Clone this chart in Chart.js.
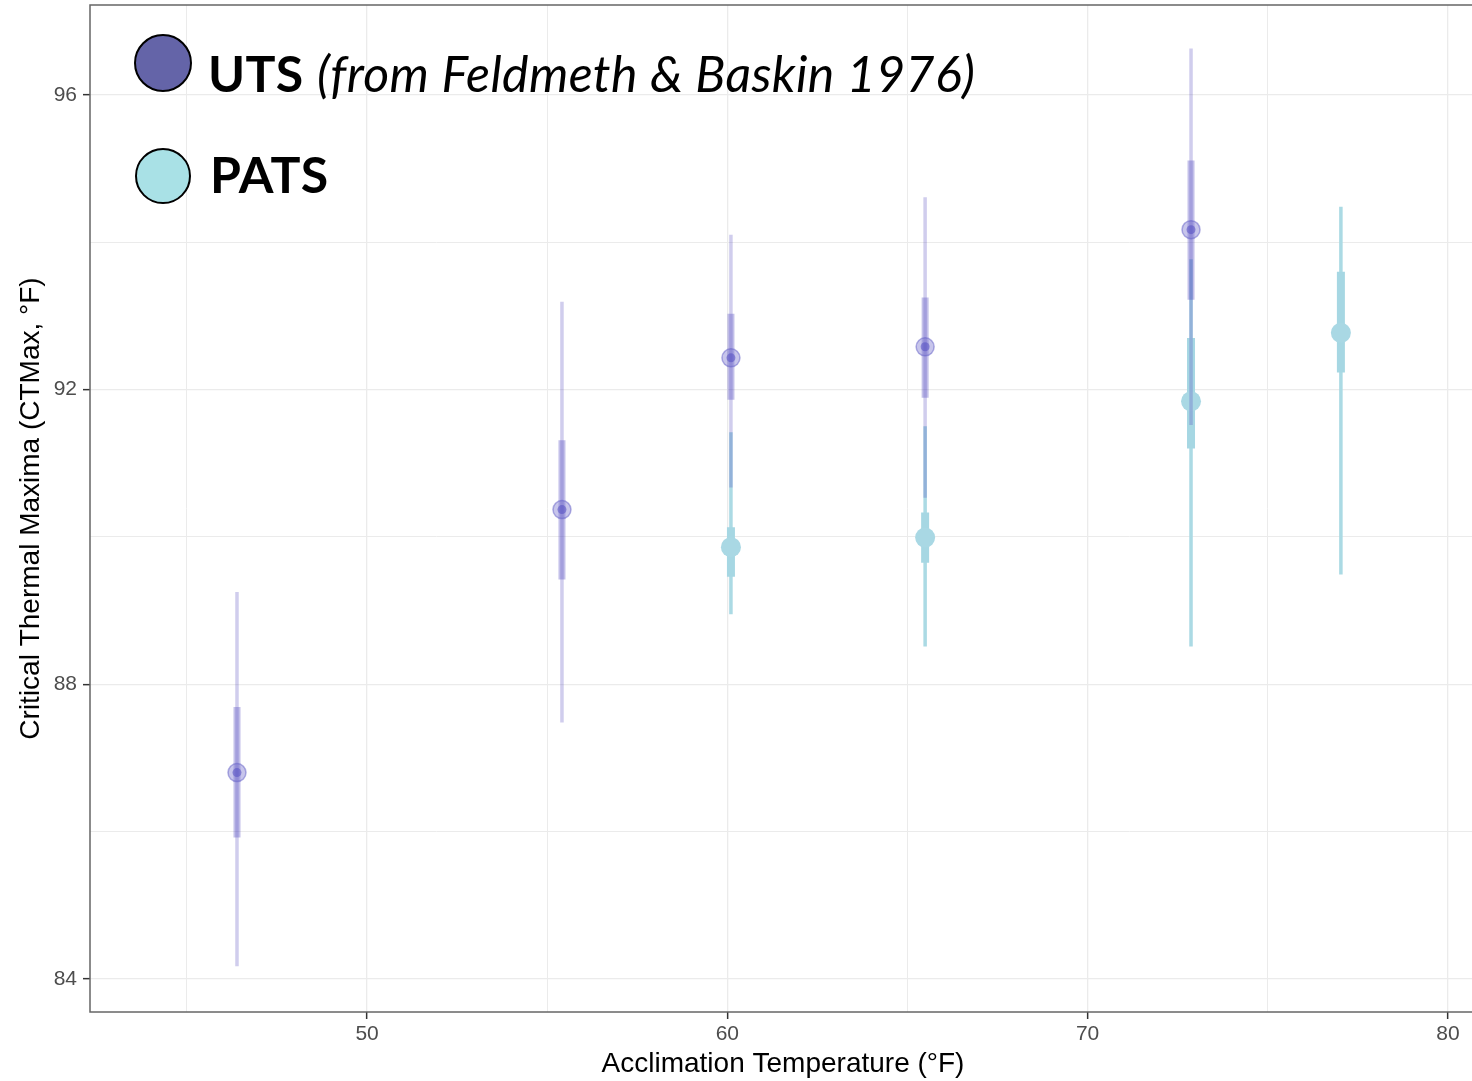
<!DOCTYPE html>
<html>
<head>
<meta charset="utf-8">
<script src="https://cdn.jsdelivr.net/npm/chart.js@4.4.1/dist/chart.umd.min.js"></script>
<style>
  body { margin: 0; background: #fff; overflow: hidden; }
  #wrap { position: relative; width: 1480px; height: 1081px; }
  .dot { position: absolute; border: 2px solid #000; border-radius: 50%; box-sizing: border-box; }
  .lab { position: absolute; font-family: Lato, "Noto Sans", sans-serif; font-size: 50px; line-height: 50px; letter-spacing: 0.4px; color: #000; white-space: nowrap; }
</style>
</head>
<body>
<div id="wrap">
  <canvas id="ctChart"></canvas>
  <div class="dot" style="left:134px; top:34px; width:58px; height:58px; background:#6464a8;"></div>
  <div class="lab" style="left:208px; top:48px;"><b>UTS</b> <i>(from Feldmeth &amp; Baskin 1976)</i></div>
  <div class="dot" style="left:135px; top:148px; width:56px; height:56px; background:#a9e1e6;"></div>
  <div class="lab" style="left:210px; top:149px;"><b>PATS</b></div>
</div>
<script>
// -------------------------------
// DATA
// -------------------------------
const utsTemp    = [46.39, 55.41, 60.10, 65.49, 72.87];
const utsMean    = [86.80, 90.37, 92.43, 92.58, 94.17];
const utsInnerLo = [85.92, 89.42, 91.86, 91.89, 93.22];
const utsInnerHi = [87.69, 91.31, 93.03, 93.25, 95.11];
const utsOuterLo = [84.17, 87.48, 90.67, 90.53, 91.52];
const utsOuterHi = [89.25, 93.19, 94.10, 94.61, 96.63];

const patsTemp    = [60.10, 65.49, 72.87, 77.03];
const patsMean    = [89.86, 89.99, 91.84, 92.77];
const patsInnerLo = [89.46, 89.65, 91.20, 92.23];
const patsInnerHi = [90.13, 90.33, 92.70, 93.60];
const patsOuterLo = [88.95, 88.51, 88.51, 89.49];
const patsOuterHi = [91.42, 91.50, 93.77, 94.48];

const xTicks = [50, 60, 70, 80];
const yTicks = [84, 88, 92, 96];

// -------------------------------
// HELPERS
// -------------------------------
// vertical segments, broken with null so each interval is its own line
function segments(xs, lo, hi) {
  const out = [];
  xs.forEach((x, i) => {
    out.push({ x: x, y: lo[i] }, { x: x, y: hi[i] }, { x: x, y: null });
  });
  return out;
}

function points(xs, ys) {
  return xs.map((x, i) => ({ x: x, y: ys[i] }));
}

function rangeLine(data, color, width) {
  return {
    type: "line",
    data: data,
    borderColor: color,
    borderWidth: width,
    borderCapStyle: "butt",
    pointRadius: 0,
    spanGaps: false,
    fill: false,
  };
}

function dots(data, fill, radius, border, bw) {
  return {
    type: "scatter",
    data: data,
    backgroundColor: fill,
    borderColor: border || fill,
    borderWidth: bw || 0,
    pointRadius: radius,
    pointHoverRadius: radius,
  };
}

// panel border all round (ggplot theme_bw look)
const panelBorder = {
  id: "panelBorder",
  beforeDatasetsDraw(chart) {
    const a = chart.chartArea;
    const ctx = chart.ctx;
    ctx.save();
    ctx.strokeStyle = "#666";
    ctx.lineWidth = 1.5;
    ctx.strokeRect(a.left, a.top, a.right - a.left, a.bottom - a.top);
    ctx.restore();
  },
};

const tickFont = { family: "'Liberation Sans', Arial, sans-serif", size: 21 };
const titleFont = { family: "'Liberation Sans', Arial, sans-serif", size: 28 };

// first dataset is drawn on top
const datasets = [
  dots(points(utsTemp, utsMean), "rgba(85,80,195,0.55)", 4.5),
  dots(points(utsTemp, utsMean), "rgba(115,110,205,0.4)", 9, "rgba(100,95,200,0.5)", 1.5),
  rangeLine(segments(utsTemp, utsInnerLo, utsInnerHi), "rgba(80,70,190,0.34)", 7),
  rangeLine(segments(utsTemp, utsOuterLo, utsOuterHi), "rgba(80,70,190,0.27)", 3.5),
  dots(points(patsTemp, patsMean), "#a9d8e4", 10),
  rangeLine(segments(patsTemp, patsInnerLo, patsInnerHi), "#a6d7e3", 8),
  rangeLine(segments(patsTemp, patsOuterLo, patsOuterHi), "#abdae4", 3.5),
];

new Chart(document.getElementById("ctChart"), {
  data: { datasets: datasets },
  plugins: [panelBorder],
  options: {
    responsive: true,
    maintainAspectRatio: false,
    animation: false,
    layout: { autoPadding: false, padding: { top: 5, right: 4, left: 0, bottom: 0 } },
    plugins: { legend: { display: false }, tooltip: { enabled: false } },
    scales: {
      x: {
        type: "linear",
        min: 42.31,
        max: 80.78,
        afterFit: (s) => { s.height = 69; s.paddingLeft = 0; s.paddingRight = 0; },
        border: { display: false },
        grid: {
          color: "#ebebeb",
          lineWidth: (c) => (c.tick && xTicks.includes(c.tick.value) ? 1.3 : 1),
          tickLength: 7,
          tickWidth: 1.5,
          tickColor: (c) => (c.tick && xTicks.includes(c.tick.value) ? "#333" : "rgba(0,0,0,0)"),
        },
        ticks: {
          stepSize: 5,
          includeBounds: false,
          autoSkip: false,
          maxRotation: 0,
          padding: 3,
          color: "#4d4d4d",
          font: tickFont,
          callback: (v) => (xTicks.includes(v) ? String(v) : ""),
        },
        title: {
          display: true,
          text: "Acclimation Temperature (°F)",
          color: "#000",
          font: titleFont,
          padding: { top: 0, bottom: 0 },
        },
      },
      y: {
        type: "linear",
        min: 83.55,
        max: 97.22,
        afterFit: (s) => { s.width = 90; s.paddingTop = 0; s.paddingBottom = 0; },
        border: { display: false },
        grid: {
          color: "#ebebeb",
          lineWidth: (c) => (c.tick && yTicks.includes(c.tick.value) ? 1.3 : 1),
          tickLength: 7,
          tickWidth: 1.5,
          tickColor: (c) => (c.tick && yTicks.includes(c.tick.value) ? "#333" : "rgba(0,0,0,0)"),
        },
        ticks: {
          stepSize: 2,
          includeBounds: false,
          autoSkip: false,
          padding: 6,
          color: "#4d4d4d",
          font: tickFont,
          callback: (v) => (yTicks.includes(v) ? String(v) : ""),
        },
        title: {
          display: true,
          text: "Critical Thermal Maxima (CTMax, °F)",
          color: "#000",
          font: titleFont,
          padding: { top: 14, bottom: 0 },
        },
      },
    },
  },
});
</script>
</body>
</html>
